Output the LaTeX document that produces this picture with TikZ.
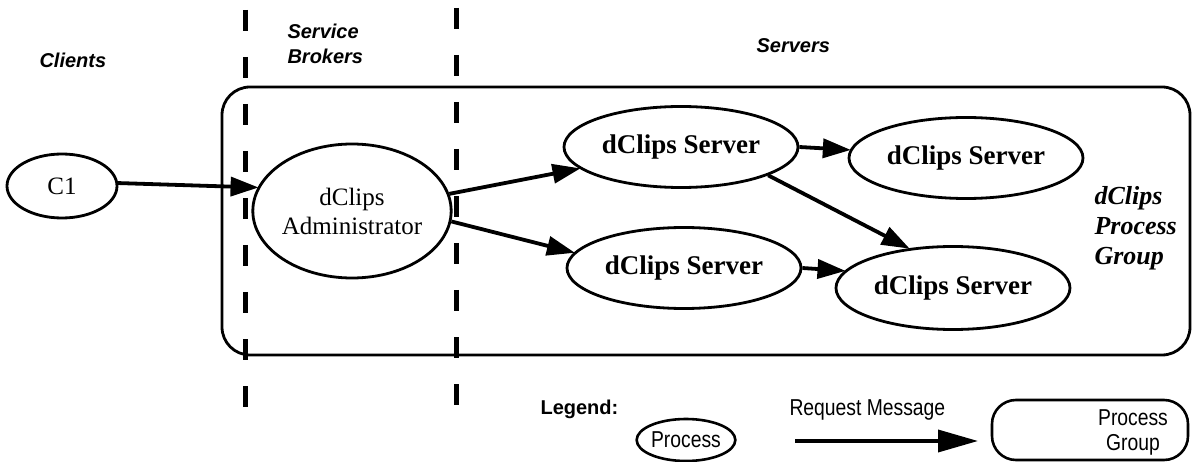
\documentclass[tikz,border=0pt]{standalone}
\usepackage{fontspec}
\setmainfont{Liberation Serif}
\setsansfont{Liberation Sans}
\newfontfamily\narrowsans[FakeStretch=0.84]{Liberation Sans}
\usetikzlibrary{shapes.geometric,arrows.meta}
\tikzset{
  proc/.style={ellipse,draw,line width=2.8pt,inner sep=0pt},
  srv/.style={proc,minimum width=234pt,minimum height=81pt,font=\fontsize{27}{29}\selectfont\bfseries},
  arr/.style={line width=3.8pt,-{Triangle[length=28pt,width=19pt]},shorten >=-1pt},
  legarr/.style={line width=3.6pt,-{Triangle[length=40pt,width=22pt]}},
  divider/.style={line width=5pt,dash pattern=on 21pt off 26pt},
  title/.style={font=\fontsize{20}{25}\selectfont\sffamily\bfseries\itshape,align=left,anchor=west},
  legtext/.style={font=\fontsize{23}{25}\selectfont\narrowsans}
}
\begin{document}
\begin{tikzpicture}[x=1pt,y=-1pt]
\useasboundingbox (0,0) rectangle (1194,462);
% titles
\node[title] (tcl) at (36,60) {Clients};
\node[title] (tsb) at (284,44) {Service\\Brokers};
\node[title] (tsv) at (753,46) {Servers};
% process group box
\draw[line width=2.8pt,rounded corners=28pt] (222,87) rectangle (1190,355);
% dividers
\coordinate (d1t) at (245,10); \coordinate (d1b) at (245,408);
\coordinate (d2t) at (456,8); \coordinate (d2b) at (456,406);
\draw[divider] (d1t) -- (d1b);
\draw[divider] (d2t) -- (d2b);
% nodes
\node[proc,minimum width=110pt,minimum height=64pt,font=\fontsize{25}{27}\selectfont] (c1) at (62,186) {C1};
\node[proc,minimum width=180pt,minimum height=134pt,font=\fontsize{25}{29}\selectfont,align=center] (adm) at (352,211) {dClips\\Administrator};
\node[srv] (sa) at (681,147) {dClips Server};
\node[srv] (sb) at (684,268) {dClips Server};
\node[srv] (sc) at (966,158) {dClips Server};
\node[srv,minimum height=83pt] (sd) at (953,288) {dClips Server};
\node[font=\fontsize{26}{30}\selectfont\itshape\bfseries,align=left,anchor=west] (pg) at (1091,228) {dClips\\Process\\Group};
% connectors
\draw[arr] (c1.3) -- (adm.166);
\draw[arr] (adm.10) -- (sa.192);
\draw[arr] (adm.-6) -- (sb.172);
\draw[arr] (sa.0) -- (sc.176);
\draw[arr] (sa.-18) -- (sd.138);
\draw[arr] (sb.0) -- (sd.171);
% legend
\node[font=\fontsize{20}{22}\selectfont\sffamily\bfseries,anchor=west] (lg) at (537,409) {Legend:};
\node[proc,line width=2.6pt,minimum width=98pt,minimum height=42pt,legtext] (lp) at (686,440) {Process};
\node[legtext,anchor=west] (lrm) at (786,410) {Request Message};
\coordinate (la1) at (795,441); \coordinate (la2) at (978,441);
\draw[legarr] (la1) -- (la2);
\node[draw,line width=2.6pt,rounded corners=24pt,minimum width=196pt,minimum height=60pt] (lgrp) at (1090,430) {};
\node[legtext,align=center] (lgt) at (1133,432) {Process\\Group};
\end{tikzpicture}
\end{document}
